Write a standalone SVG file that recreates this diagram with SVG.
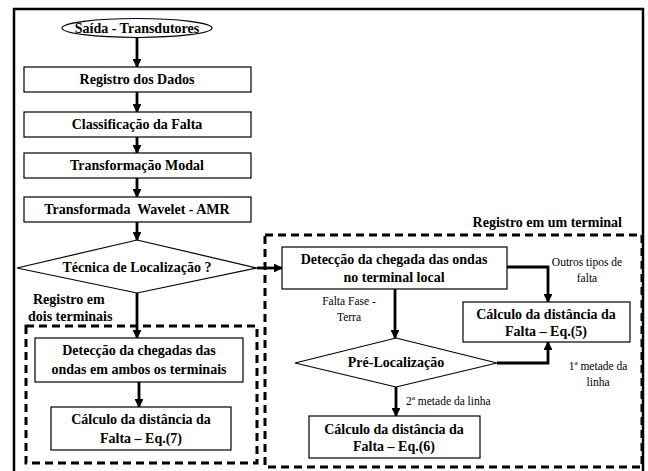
<svg xmlns="http://www.w3.org/2000/svg" width="648" height="471" viewBox="0 0 648 471">
<defs>
<marker id="ah" viewBox="0 0 10 10" refX="9" refY="5" markerWidth="3.2" markerHeight="3.2" markerUnits="strokeWidth" orient="auto">
<path d="M0,0 L10,5 L0,10 Z" fill="#000"/>
</marker>
<style>
.box{fill:#fff;stroke:#000;stroke-width:1.2}
.dash{fill:none;stroke:#000;stroke-width:3;stroke-dasharray:8,5}
.t{font-family:"Liberation Serif","Times New Roman",serif;font-weight:bold;font-size:14px;fill:#000;text-anchor:middle}
.tl{font-family:"Liberation Serif","Times New Roman",serif;font-weight:bold;font-size:14px;fill:#000}
.tr{font-family:"Liberation Serif","Times New Roman",serif;font-weight:bold;font-size:14px;fill:#000;text-anchor:end}
.s{font-family:"Liberation Serif","Times New Roman",serif;font-size:11.5px;fill:#000;text-anchor:middle}
.sl{font-family:"Liberation Serif","Times New Roman",serif;font-size:11.5px;fill:#000}
.c{fill:none;stroke:#000;stroke-width:2.8}
</style>
</defs>
<rect width="648" height="471" fill="#fff"/>
<path d="M14,475 V9 H643 V475" fill="none" stroke="#000" stroke-width="2.5"/>

<g id="dashed-groups">
<rect class="dash" x="26" y="326" width="231" height="137"/>
<rect class="dash" x="265" y="235" width="377" height="232"/>
<text class="tr" x="622" y="227">Registro em um terminal</text>
<text class="tl" x="33" y="304">Registro em</text>
<text class="tl" x="28" y="321">dois terminais</text>
</g>

<g id="connectors">
<path class="c" d="M137,38 V67" marker-end="url(#ah)"/>
<path class="c" d="M137,92 V112" marker-end="url(#ah)"/>
<path class="c" d="M137,137 V153" marker-end="url(#ah)"/>
<path class="c" d="M137,178 V197" marker-end="url(#ah)"/>
<path class="c" d="M137,222 V240" marker-end="url(#ah)"/>
<path class="c" d="M257,268 H282" marker-end="url(#ah)"/>
<path class="c" d="M137,293 V338" marker-end="url(#ah)"/>
<path class="c" d="M139,382 V407" marker-end="url(#ah)"/>
<path class="c" d="M507,267 H548 V302" marker-end="url(#ah)"/>
<path class="c" d="M395,289 V338" marker-end="url(#ah)"/>
<path class="c" d="M497,363 H548 V342" marker-end="url(#ah)"/>
<path class="c" d="M396,387 V416" marker-end="url(#ah)"/>
<text class="s" x="587" y="266">Outros tipos de</text>
<text class="s" x="587" y="282">falta</text>
<text class="s" x="349" y="305">Falta Fase -</text>
<text class="s" x="349" y="321">Terra</text>
<text class="s" x="598" y="370">1ª metade da</text>
<text class="s" x="598" y="386">linha</text>
<text class="sl" x="406" y="405">2ª metade da linha</text>
</g>

<g id="n-saida">
<ellipse cx="137" cy="28" rx="75" ry="9.5" class="box"/>
<text class="t" x="137" y="33">Saída - Transdutores</text>
</g>
<g id="n-registro">
<rect class="box" x="24" y="67" width="227" height="25"/>
<text class="t" x="137" y="84">Registro dos Dados</text>
</g>
<g id="n-classificacao">
<rect class="box" x="24" y="112" width="227" height="25"/>
<text class="t" x="137" y="129">Classificação da Falta</text>
</g>
<g id="n-modal">
<rect class="box" x="24" y="153" width="227" height="25"/>
<text class="t" x="137" y="170">Transformação Modal</text>
</g>
<g id="n-wavelet">
<rect class="box" x="24" y="197" width="227" height="25"/>
<text class="t" x="137" y="214" xml:space="preserve">Transformada  Wavelet - AMR</text>
</g>
<g id="n-tecnica">
<polygon class="box" points="137,240 257,268 137,293 17,268"/>
<text class="t" x="137" y="272">Técnica de Localização ?</text>
</g>
<g id="n-deteccao-ambos">
<rect class="box" x="35" y="338" width="208" height="44"/>
<text class="t" x="139" y="355">Detecção da chegadas das</text>
<text class="t" x="139" y="374">ondas em ambos os terminais</text>
</g>
<g id="n-eq7">
<rect class="box" x="51" y="407" width="180" height="43"/>
<text class="t" x="141" y="424">Cálculo da distância da</text>
<text class="t" x="141" y="443">Falta – Eq.(7)</text>
</g>
<g id="n-deteccao-local">
<rect class="box" x="282" y="247" width="225" height="42"/>
<text class="t" x="394" y="264">Detecção da chegada das ondas</text>
<text class="t" x="394" y="282">no terminal local</text>
</g>
<g id="n-eq5">
<rect class="box" x="463" y="302" width="167" height="40"/>
<text class="t" x="546" y="319">Cálculo da distância da</text>
<text class="t" x="546" y="336">Falta – Eq.(5)</text>
</g>
<g id="n-prelocalizacao">
<polygon class="box" points="396,338 497,363 396,387 295,363"/>
<text class="t" x="396" y="367">Pré-Localização</text>
</g>
<g id="n-eq6">
<rect class="box" x="309" y="416" width="171" height="42"/>
<text class="t" x="394" y="434">Cálculo da distância da</text>
<text class="t" x="394" y="451">Falta – Eq.(6)</text>
</g>
</svg>
